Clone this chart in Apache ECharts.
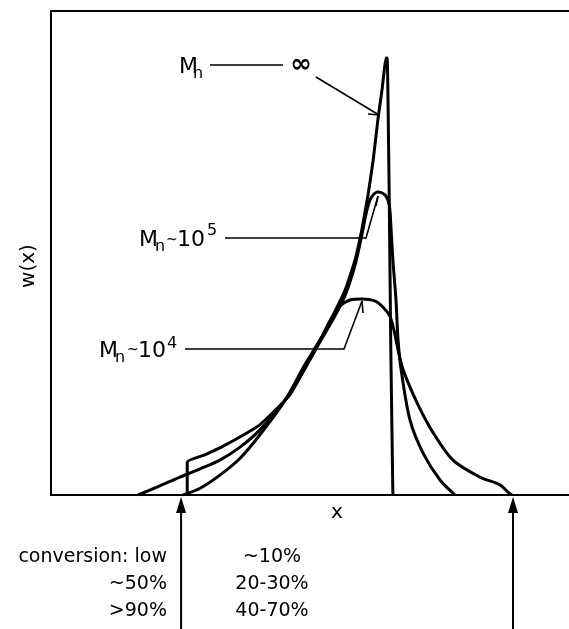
<!DOCTYPE html>
<html>
<head>
<meta charset="utf-8">
<script src="https://cdn.jsdelivr.net/npm/echarts@6/dist/echarts.min.js"></script>
<style>
  html, body { margin: 0; background: #fff; }
  #chart { width: 569px; height: 629px; }
</style>
</head>
<body>
<div id="chart"></div>
<script>
// w(x) curves, both axes in arbitrary units (0-100)
var mnInfX = [26.3, 26.3, 29.7, 33.6, 40.3, 46.1, 51.0, 54.2, 56.8, 58.7, 60.0, 61.2, 62.2, 63.1, 63.9, 64.7, 64.9, 65.3, 65.6, 66.0];
var mnInfW = [0, 6.8, 8.3, 10.3, 14.5, 20.7, 30.0, 36.6, 42.4, 48.6, 54.8, 62.0, 69.2, 77.5, 83.7, 90.3, 90.3, 61.0, 30.0, 0];

var mn5X = [16.8, 21.0, 24.9, 28.8, 32.6, 36.5, 40.3, 45.2, 49.0, 51.9, 54.8, 56.8, 58.7, 60.0, 61.0, 61.8, 63.1, 64.5, 65.3, 65.6, 66.0, 66.6, 67.0, 67.6, 69.3, 71.8, 75.1, 78.0];
var mn5W = [0, 1.9, 3.7, 5.4, 7.2, 9.9, 13.4, 19.6, 26.2, 31.6, 37.0, 41.3, 47.5, 53.7, 58.9, 61.4, 62.6, 62.0, 59.9, 55.8, 48.6, 40.3, 32.0, 25.8, 15.5, 8.7, 3.1, 0];

var mn4X = [25.5, 28.8, 32.6, 36.5, 40.3, 45.2, 49.0, 51.9, 54.2, 55.8, 57.7, 60.0, 62.5, 64.1, 65.4, 66.2, 67.0, 68.0, 70.7, 73.7, 77.6, 82.8, 86.7, 88.2, 89.0];
var mn4W = [0, 1.4, 4.1, 7.6, 12.4, 19.6, 26.9, 32.0, 36.6, 39.0, 40.3, 40.5, 40.1, 38.8, 37.0, 34.1, 30.0, 25.8, 19.0, 13.0, 7.2, 3.7, 2.1, 0.6, 0];

var conversionLow = ['conversion: low', '~50%', '>90%'];
var conversionHigh = ['~10%', '20-30%', '40-70%'];

function zip(xs, ys) {
  return xs.map(function (x, i) { return [x, ys[i]]; });
}

var FONT = 'DejaVu Sans';
var chart = echarts.init(document.getElementById('chart'), null, { renderer: 'canvas' });

function curve(name, xs, ys, smooth) {
  return {
    name: name,
    type: 'line',
    data: zip(xs, ys),
    showSymbol: false,
    smooth: smooth,
    silent: true,
    lineStyle: { color: '#000', width: 3 }
  };
}

var hidden = {
  axisTick: { show: false }, axisLabel: { show: false }, splitLine: { show: false }
};
var frame = { show: true, onZero: false, lineStyle: { color: '#000', width: 2 } };

chart.setOption({
  animation: false,
  backgroundColor: '#fff',
  // the frame runs off the right edge, so only left, bottom and top are drawn
  grid: { left: 51, top: 11, right: 0, bottom: 134 },
  xAxis: [
    Object.assign({ type: 'value', min: 0, max: 100, position: 'bottom', axisLine: frame }, hidden),
    Object.assign({ type: 'value', min: 0, max: 100, position: 'top', axisLine: frame }, hidden)
  ],
  yAxis: Object.assign({ type: 'value', min: 0, max: 100, axisLine: frame }, hidden),
  series: [
    curve('Mn inf', mnInfX, mnInfW, 0.15),
    curve('Mn 1e5', mn5X, mn5W, 0.3),
    curve('Mn 1e4', mn4X, mn4W, 0.3)
  ]
});

function txt(x, y, s, size, align, extra) {
  var el = {
    type: 'text', x: x, y: y, silent: true,
    style: {
      text: s, fill: '#000', font: size + 'px "' + FONT + '"',
      align: align || 'left', verticalAlign: 'middle'
    }
  };
  if (extra) Object.assign(el, extra);
  return el;
}

function line(points, w) {
  return {
    type: 'polyline', silent: true,
    shape: { points: points },
    style: { stroke: '#000', lineWidth: w || 1.6, fill: null }
  };
}

function upArrow(x, yTip, yEnd) {
  return [
    line([[x, yTip + 10], [x, yEnd]], 2),
    {
      type: 'polygon', silent: true,
      shape: { points: [[x, yTip], [x - 5, yTip + 16], [x + 5, yTip + 16]] },
      style: { fill: '#000' }
    }
  ];
}

var base = chart.convertToPixel({ gridIndex: 0 }, [0, 0]);
var leftEnd = chart.convertToPixel({ gridIndex: 0 }, [mn4X[0], 0]);
var rightEnd = chart.convertToPixel({ gridIndex: 0 }, [mn4X[mn4X.length - 1], 0]);

var g = [];

// axis names
g.push(txt(337, 513, 'x', 20, 'center'));
g.push(txt(29, 266, 'w(x)', 20, 'center', { rotation: Math.PI / 2 }));

// Mn -> infinity
g.push(txt(179, 67, 'M', 22));
g.push(txt(193, 74, 'n', 16));
g.push(line([[210, 65], [283, 65]]));
g.push(txt(301, 65, '\u221e', 26, 'center', { style: {
  text: '\u221e', fill: '#000', font: 'bold 26px "' + FONT + '"', align: 'center', verticalAlign: 'middle'
} }));
g.push(line([[316, 77], [379, 115]]));
g.push(line([[368, 114], [379, 115]]));

// Mn ~ 10^5
g.push(txt(139, 240, 'M', 22));
g.push(txt(155, 247, 'n', 16));
g.push(txt(166, 240, '~', 14));
g.push(txt(177, 240, '10', 22));
g.push(txt(207, 231, '5', 16));
g.push(line([[225, 238], [366, 238], [378, 196]]));
g.push(line([[376, 206], [378, 196]]));

// Mn ~ 10^4
g.push(txt(99, 351, 'M', 22));
g.push(txt(115, 358, 'n', 16));
g.push(txt(127, 350, '~', 14));
g.push(txt(138, 351, '10', 22));
g.push(txt(167, 344, '4', 16));
g.push(line([[185, 349], [344, 349], [362, 301]]));
g.push(line([[363, 313], [362, 301]]));

// range arrows below the x axis
g = g.concat(upArrow(leftEnd[0] - 2, base[1] + 2, 629));
g = g.concat(upArrow(rightEnd[0] + 1, base[1] + 2, 629));

// conversion table
var rowsY = [557, 584, 611];
conversionLow.forEach(function (s, i) {
  g.push(txt(167, rowsY[i], s, 19, 'right'));
});
conversionHigh.forEach(function (s, i) {
  g.push(txt(272, rowsY[i], s, 19, 'center'));
});

chart.setOption({ graphic: { elements: g } });
</script>
</body>
</html>
